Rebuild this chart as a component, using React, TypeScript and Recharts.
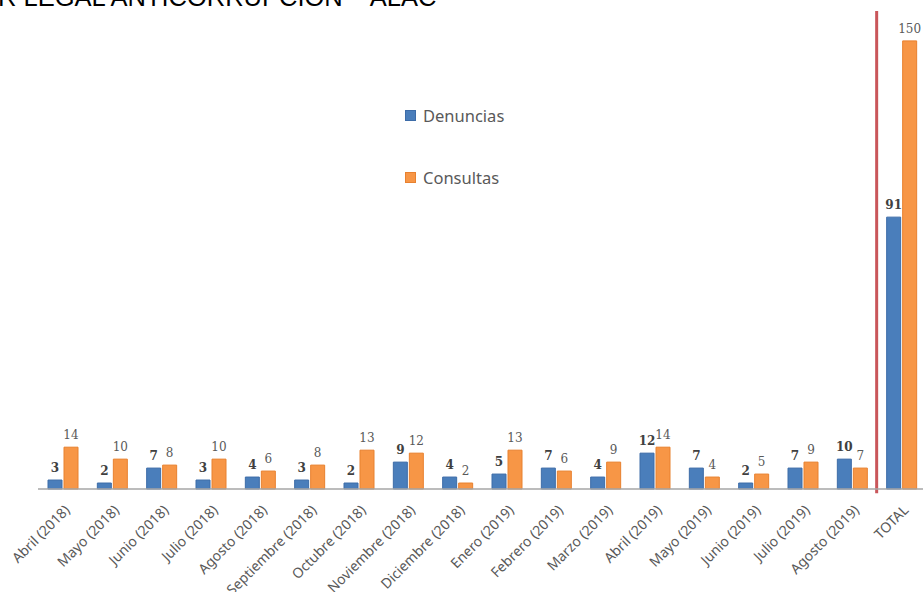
import React from "react";
import {
  Bar,
  BarChart,
  XAxis,
  YAxis,
  LabelList,
  ReferenceLine,
} from "recharts";

const months = [
  "Abril (2018)",
  "Mayo (2018)",
  "Junio (2018)",
  "Julio (2018)",
  "Agosto (2018)",
  "Septiembre (2018)",
  "Octubre (2018)",
  "Noviembre (2018)",
  "Diciembre (2018)",
  "Enero (2019)",
  "Febrero (2019)",
  "Marzo (2019)",
  "Abril (2019)",
  "Mayo (2019)",
  "Junio (2019)",
  "Julio (2019)",
  "Agosto (2019)",
  "TOTAL",
];
const denuncias = [3, 2, 7, 3, 4, 3, 2, 9, 4, 5, 7, 4, 12, 7, 2, 7, 10, 91];
const consultas = [14, 10, 8, 10, 6, 8, 13, 12, 2, 13, 6, 9, 14, 4, 5, 9, 7, 150];

const data = months.map((m, i) => ({
  name: m,
  Denuncias: denuncias[i],
  Consultas: consultas[i],
}));

const BLUE = "#4a7ebb";
const ORANGE = "#f79646";

const AxisTick = (props: any) => {
  const { x, y, payload } = props;
  const ax = x + 1;
  const ay = y + 7;
  return (
    <text
      x={ax}
      y={ay}
      transform={`rotate(-45, ${ax}, ${ay})`}
      textAnchor="end"
      dy="0.71em"
      fill="#595959"
      fontSize={14}
      fontFamily="Noto Sans"
    >
      {payload.value}
    </text>
  );
};

const LegendBox = () => (
  <div
    style={{
      position: "absolute",
      left: 405,
      top: 105,
      fontFamily: "Noto Sans",
      fontSize: 16.5,
      color: "#595959",
    }}
  >
    {[
      { label: "Denuncias", color: BLUE, stroke: "#3d6ca8" },
      { label: "Consultas", color: ORANGE, stroke: "#e8812f" },
    ].map((it, i) => (
      <div
        key={it.label}
        style={{
          display: "flex",
          alignItems: "center",
          height: 20,
          marginBottom: i === 0 ? 42 : 0,
        }}
      >
        <span
          style={{
            display: "inline-block",
            width: 9,
            height: 9,
            background: it.color,
            border: `1px solid ${it.stroke}`,
            marginRight: 7,
          }}
        />
        {it.label}
      </div>
    ))}
  </div>
);

export default function App() {
  return (
    <div
      style={{
        position: "absolute",
        top: 0,
        left: 0,
        width: 923,
        height: 592,
        overflow: "hidden",
        background: "#fff",
      }}
    >
      <svg
        width={923}
        height={30}
        style={{ position: "absolute", top: 0, left: 0 }}
      >
        <text x={-2} y={6} fontSize={25.5} fontFamily="Liberation Sans" fill="#000">
          R LEGAL ANTICORRUPCIÓN – ALAC
        </text>
      </svg>
      <BarChart
        width={928}
        height={592}
        data={data}
        margin={{ top: 11, right: 2, left: 38, bottom: 0 }}
        barSize={14}
        barGap={2}
      >
        <XAxis
          dataKey="name"
          interval={0}
          tickLine={false}
          axisLine={{ stroke: "#a6a6a6", strokeWidth: 1.5 }}
          tick={<AxisTick />}
          height={103}
        />
        <YAxis hide domain={[0, 160]} />
        <ReferenceLine
          segment={[
            { x: "TOTAL", y: 160 },
            { x: "TOTAL", y: -1.4 },
          ]}
          position="start"
          ifOverflow="visible"
          stroke="#c9565a"
          strokeWidth={3}
        />
        <Bar
          dataKey="Denuncias"
          fill={BLUE}
          stroke="#3d6ca8"
          strokeWidth={1}
          isAnimationActive={false}
        >
          <LabelList
            dataKey="Denuncias"
            position="top"
            offset={8}
            fill="#404040"
            fontSize={12}
            fontWeight="bold"
            fontFamily="DejaVu Serif"
          />
        </Bar>
        <Bar
          dataKey="Consultas"
          fill={ORANGE}
          stroke="#e8812f"
          strokeWidth={1}
          isAnimationActive={false}
        >
          <LabelList
            dataKey="Consultas"
            position="top"
            offset={8}
            fill="#595959"
            fontSize={12}
            fontFamily="DejaVu Serif"
          />
        </Bar>
      </BarChart>
      <LegendBox />
    </div>
  );
}
